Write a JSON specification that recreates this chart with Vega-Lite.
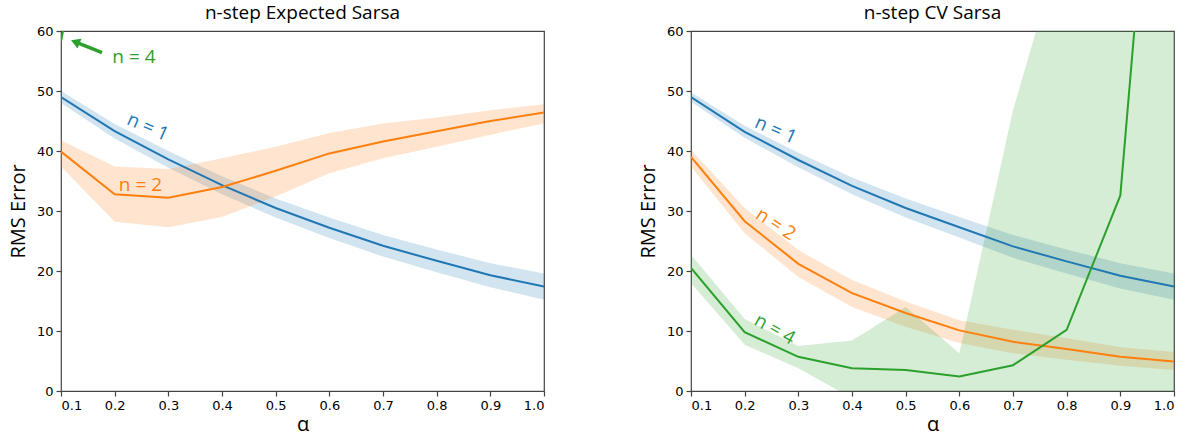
{
  "$schema": "https://vega.github.io/schema/vega-lite/v6.json",
  "padding": {"left": 7, "top": 3, "right": 5, "bottom": 2},
  "datasets": {
    "series": [
      {"panel": "E", "n": "1", "alpha": 0.1, "mean": 49.0, "lo": 48.0, "hi": 50.0},
      {"panel": "E", "n": "1", "alpha": 0.2, "mean": 43.3, "lo": 42.1, "hi": 44.5},
      {"panel": "E", "n": "1", "alpha": 0.3, "mean": 38.6, "lo": 37.2, "hi": 40.0},
      {"panel": "E", "n": "1", "alpha": 0.4, "mean": 34.3, "lo": 32.8, "hi": 35.8},
      {"panel": "E", "n": "1", "alpha": 0.5, "mean": 30.5, "lo": 28.9, "hi": 32.1},
      {"panel": "E", "n": "1", "alpha": 0.6, "mean": 27.2, "lo": 25.5, "hi": 28.9},
      {"panel": "E", "n": "1", "alpha": 0.7, "mean": 24.2, "lo": 22.4, "hi": 26.0},
      {"panel": "E", "n": "1", "alpha": 0.8, "mean": 21.7, "lo": 19.8, "hi": 23.6},
      {"panel": "E", "n": "1", "alpha": 0.9, "mean": 19.3, "lo": 17.3, "hi": 21.3},
      {"panel": "E", "n": "1", "alpha": 1.0, "mean": 17.4, "lo": 15.2, "hi": 19.6},
      {"panel": "E", "n": "2", "alpha": 0.1, "mean": 39.9, "lo": 37.4, "hi": 41.8},
      {"panel": "E", "n": "2", "alpha": 0.2, "mean": 32.8, "lo": 28.2, "hi": 37.4},
      {"panel": "E", "n": "2", "alpha": 0.3, "mean": 32.2, "lo": 27.3, "hi": 37.0},
      {"panel": "E", "n": "2", "alpha": 0.4, "mean": 34.0, "lo": 29.0, "hi": 38.8},
      {"panel": "E", "n": "2", "alpha": 0.5, "mean": 36.7, "lo": 32.4, "hi": 40.7},
      {"panel": "E", "n": "2", "alpha": 0.6, "mean": 39.6, "lo": 36.3, "hi": 43.0},
      {"panel": "E", "n": "2", "alpha": 0.7, "mean": 41.6, "lo": 38.8, "hi": 44.6},
      {"panel": "E", "n": "2", "alpha": 0.8, "mean": 43.3, "lo": 40.7, "hi": 45.6},
      {"panel": "E", "n": "2", "alpha": 0.9, "mean": 45.0, "lo": 42.7, "hi": 46.8},
      {"panel": "E", "n": "2", "alpha": 1.0, "mean": 46.4, "lo": 44.6, "hi": 47.8},
      {"panel": "E", "n": "4", "alpha": 0.1, "mean": 58.3, "lo": null, "hi": null},
      {"panel": "E", "n": "4", "alpha": 0.2, "mean": 103.0, "lo": null, "hi": null},
      {"panel": "C", "n": "1", "alpha": 0.1, "mean": 49.0, "lo": 48.2, "hi": 49.8},
      {"panel": "C", "n": "1", "alpha": 0.2, "mean": 43.2, "lo": 42.2, "hi": 44.2},
      {"panel": "C", "n": "1", "alpha": 0.3, "mean": 38.5, "lo": 37.3, "hi": 39.7},
      {"panel": "C", "n": "1", "alpha": 0.4, "mean": 34.2, "lo": 32.8, "hi": 35.6},
      {"panel": "C", "n": "1", "alpha": 0.5, "mean": 30.5, "lo": 28.9, "hi": 32.1},
      {"panel": "C", "n": "1", "alpha": 0.6, "mean": 27.3, "lo": 25.6, "hi": 29.0},
      {"panel": "C", "n": "1", "alpha": 0.7, "mean": 24.1, "lo": 22.2, "hi": 26.0},
      {"panel": "C", "n": "1", "alpha": 0.8, "mean": 21.6, "lo": 19.6, "hi": 23.6},
      {"panel": "C", "n": "1", "alpha": 0.9, "mean": 19.2, "lo": 17.1, "hi": 21.3},
      {"panel": "C", "n": "1", "alpha": 1.0, "mean": 17.4, "lo": 15.2, "hi": 19.6},
      {"panel": "C", "n": "2", "alpha": 0.1, "mean": 39.0, "lo": 37.4, "hi": 40.2},
      {"panel": "C", "n": "2", "alpha": 0.2, "mean": 28.3, "lo": 26.3, "hi": 30.5},
      {"panel": "C", "n": "2", "alpha": 0.3, "mean": 21.2, "lo": 19.0, "hi": 23.5},
      {"panel": "C", "n": "2", "alpha": 0.4, "mean": 16.3, "lo": 14.0, "hi": 18.5},
      {"panel": "C", "n": "2", "alpha": 0.5, "mean": 13.0, "lo": 10.7, "hi": 14.9},
      {"panel": "C", "n": "2", "alpha": 0.6, "mean": 10.1, "lo": 8.0, "hi": 11.8},
      {"panel": "C", "n": "2", "alpha": 0.7, "mean": 8.2, "lo": 6.3, "hi": 10.2},
      {"panel": "C", "n": "2", "alpha": 0.8, "mean": 7.0, "lo": 5.2, "hi": 8.8},
      {"panel": "C", "n": "2", "alpha": 0.9, "mean": 5.7, "lo": 4.2, "hi": 7.3},
      {"panel": "C", "n": "2", "alpha": 1.0, "mean": 4.9, "lo": 3.5, "hi": 6.5},
      {"panel": "C", "n": "4", "alpha": 0.1, "mean": 20.5, "lo": 18.0, "hi": 22.7},
      {"panel": "C", "n": "4", "alpha": 0.2, "mean": 9.8, "lo": 7.7, "hi": 12.0},
      {"panel": "C", "n": "4", "alpha": 0.3, "mean": 5.7, "lo": 3.8, "hi": 7.5},
      {"panel": "C", "n": "4", "alpha": 0.4, "mean": 3.8, "lo": -1.2, "hi": 8.4},
      {"panel": "C", "n": "4", "alpha": 0.5, "mean": 3.5, "lo": -7.0, "hi": 14.0},
      {"panel": "C", "n": "4", "alpha": 0.6, "mean": 2.4, "lo": -15.0, "hi": 6.3},
      {"panel": "C", "n": "4", "alpha": 0.7, "mean": 4.3, "lo": -38.0, "hi": 46.8},
      {"panel": "C", "n": "4", "alpha": 0.8, "mean": 10.2, "lo": -57.0, "hi": 77.5},
      {"panel": "C", "n": "4", "alpha": 0.9, "mean": 32.6, "lo": -85.0, "hi": 150.0},
      {"panel": "C", "n": "4", "alpha": 1.0, "mean": 138.0, "lo": -114.0, "hi": 390.0}
    ],
    "labels": [
      {"panel": "E", "n": "1", "label": "n = 1", "alpha": 0.262, "value": 44.0},
      {"panel": "E", "n": "2", "label": "n = 2", "alpha": 0.248, "value": 34.3},
      {"panel": "E", "n": "4", "label": "n = 4", "alpha": 0.236, "value": 55.7},
      {"panel": "C", "n": "1", "label": "n = 1", "alpha": 0.258, "value": 43.5},
      {"panel": "C", "n": "2", "label": "n = 2", "alpha": 0.258, "value": 27.8},
      {"panel": "C", "n": "4", "label": "n = 4", "alpha": 0.256, "value": 10.3}
    ],
    "arrow": [
      {"n": "4", "x1": 0.1764, "y1": 56.4, "x2": 0.1266, "y2": 58.18}
    ]
  },
  "hconcat": [
    {
      "width": 483, "height": 360,
      "title": {"text": "n-step Expected Sarsa"},
      "layer": [
        {
          "data": {"name": "series"},
          "transform": [{"filter": "datum.panel == 'E' && datum.lo != null"}],
          "mark": {"type": "area", "opacity": 0.2, "clip": true},
          "encoding": {
            "x": {"field": "alpha", "type": "quantitative", "scale": {"domain": [0.1, 1.0], "nice": false, "zero": false}, "axis": {"values": [0.1,0.2,0.3,0.4,0.5,0.6,0.7,0.8,0.9,1.0], "format": ".1f"}, "title": "α"},
            "y": {"field": "lo", "type": "quantitative", "scale": {"domain": [0, 60], "nice": false}, "axis": {"values": [0,10,20,30,40,50,60]}, "title": "RMS Error"},
            "y2": {"field": "hi"},
            "color": {"field": "n", "type": "nominal", "scale": {"domain": ["1","2","4"], "range": ["#1f77b4","#ff7f0e","#2ca02c"]}, "legend": null}
          }
        },
        {
          "data": {"name": "series"},
          "transform": [{"filter": "datum.panel == 'E'"}],
          "mark": {"type": "line", "strokeWidth": 2, "clip": true},
          "encoding": {
            "x": {"field": "alpha", "type": "quantitative", "title": "α"},
            "y": {"field": "mean", "type": "quantitative", "title": "RMS Error"},
            "color": {"field": "n", "type": "nominal", "legend": null}
          }
        },
        {
          "data": {"name": "labels"},
          "transform": [{"filter": "datum.panel == 'E' && datum.n == '1'"}],
          "mark": {"type": "text", "angle": 24, "fontSize": 19, "font": "Open Sans", "align": "center", "baseline": "middle"},
          "encoding": {
            "x": {"field": "alpha", "type": "quantitative", "title": "α"},
            "y": {"field": "value", "type": "quantitative", "title": "RMS Error"},
            "text": {"field": "label"},
            "color": {"field": "n", "type": "nominal", "legend": null}
          }
        },
        {
          "data": {"name": "labels"},
          "transform": [{"filter": "datum.panel == 'E' && datum.n != '1'"}],
          "mark": {"type": "text", "angle": 0, "fontSize": 19, "font": "Open Sans", "align": "center", "baseline": "middle"},
          "encoding": {
            "x": {"field": "alpha", "type": "quantitative", "title": "α"},
            "y": {"field": "value", "type": "quantitative", "title": "RMS Error"},
            "text": {"field": "label"},
            "color": {"field": "n", "type": "nominal", "legend": null}
          }
        },
        {
          "data": {"name": "arrow"},
          "mark": {"type": "rule", "strokeWidth": 3.5},
          "encoding": {
            "x": {"field": "x1", "type": "quantitative", "title": "α"},
            "y": {"field": "y1", "type": "quantitative", "title": "RMS Error"},
            "x2": {"field": "x2"},
            "y2": {"field": "y2"},
            "color": {"field": "n", "type": "nominal", "legend": null}
          }
        },
        {
          "data": {"name": "arrow"},
          "mark": {"type": "point", "shape": "triangle-up", "filled": true, "opacity": 1, "size": 110, "angle": 292},
          "encoding": {
            "x": {"field": "x2", "type": "quantitative", "title": "α"},
            "y": {"field": "y2", "type": "quantitative", "title": "RMS Error"},
            "color": {"field": "n", "type": "nominal", "legend": null}
          }
        }
      ]
    },
    {
      "width": 483, "height": 360,
      "title": {"text": "n-step CV Sarsa"},
      "layer": [
        {
          "data": {"name": "series"},
          "transform": [{"filter": "datum.panel == 'C' && datum.lo != null"}],
          "mark": {"type": "area", "opacity": 0.2, "clip": true},
          "encoding": {
            "x": {"field": "alpha", "type": "quantitative", "scale": {"domain": [0.1, 1.0], "nice": false, "zero": false}, "axis": {"values": [0.1,0.2,0.3,0.4,0.5,0.6,0.7,0.8,0.9,1.0], "format": ".1f"}, "title": "α"},
            "y": {"field": "lo", "type": "quantitative", "scale": {"domain": [0, 60], "nice": false}, "axis": {"values": [0,10,20,30,40,50,60]}, "title": "RMS Error"},
            "y2": {"field": "hi"},
            "color": {"field": "n", "type": "nominal", "scale": {"domain": ["1","2","4"], "range": ["#1f77b4","#ff7f0e","#2ca02c"]}, "legend": null}
          }
        },
        {
          "data": {"name": "series"},
          "transform": [{"filter": "datum.panel == 'C'"}],
          "mark": {"type": "line", "strokeWidth": 2, "clip": true},
          "encoding": {
            "x": {"field": "alpha", "type": "quantitative", "title": "α"},
            "y": {"field": "mean", "type": "quantitative", "title": "RMS Error"},
            "color": {"field": "n", "type": "nominal", "legend": null}
          }
        },
        {
          "data": {"name": "labels"},
          "transform": [{"filter": "datum.panel == 'C' && datum.n == '1'"}],
          "mark": {"type": "text", "angle": 24, "fontSize": 19, "font": "Open Sans", "align": "center", "baseline": "middle"},
          "encoding": {
            "x": {"field": "alpha", "type": "quantitative", "title": "α"},
            "y": {"field": "value", "type": "quantitative", "title": "RMS Error"},
            "text": {"field": "label"},
            "color": {"field": "n", "type": "nominal", "legend": null}
          }
        },
        {
          "data": {"name": "labels"},
          "transform": [{"filter": "datum.panel == 'C' && datum.n == '2'"}],
          "mark": {"type": "text", "angle": 33, "fontSize": 19, "font": "Open Sans", "align": "center", "baseline": "middle"},
          "encoding": {
            "x": {"field": "alpha", "type": "quantitative", "title": "α"},
            "y": {"field": "value", "type": "quantitative", "title": "RMS Error"},
            "text": {"field": "label"},
            "color": {"field": "n", "type": "nominal", "legend": null}
          }
        },
        {
          "data": {"name": "labels"},
          "transform": [{"filter": "datum.panel == 'C' && datum.n == '4'"}],
          "mark": {"type": "text", "angle": 29, "fontSize": 19, "font": "Open Sans", "align": "center", "baseline": "middle"},
          "encoding": {
            "x": {"field": "alpha", "type": "quantitative", "title": "α"},
            "y": {"field": "value", "type": "quantitative", "title": "RMS Error"},
            "text": {"field": "label"},
            "color": {"field": "n", "type": "nominal", "legend": null}
          }
        }
      ]
    }
  ],
  "spacing": 91,
  "config": {
    "view": {"stroke": "#444", "strokeWidth": 1.2},
    "axis": {
      "domain": false, "grid": false, "tickColor": "#444", "tickSize": 5, "tickWidth": 1.2,
      "labelFont": "DejaVu Sans", "labelFontSize": 13, "labelColor": "#000", "labelPadding": 3,
      "titleFont": "Open Sans", "titleFontSize": 20, "titleFontWeight": "normal", "titleColor": "#000"
    },
    "axisX": {"titlePadding": 2},
    "axisY": {"titlePadding": 8},
    "title": {"font": "Open Sans", "fontSize": 19, "fontWeight": "normal", "color": "#000", "offset": 2, "baseline": "bottom"}
  }
}
